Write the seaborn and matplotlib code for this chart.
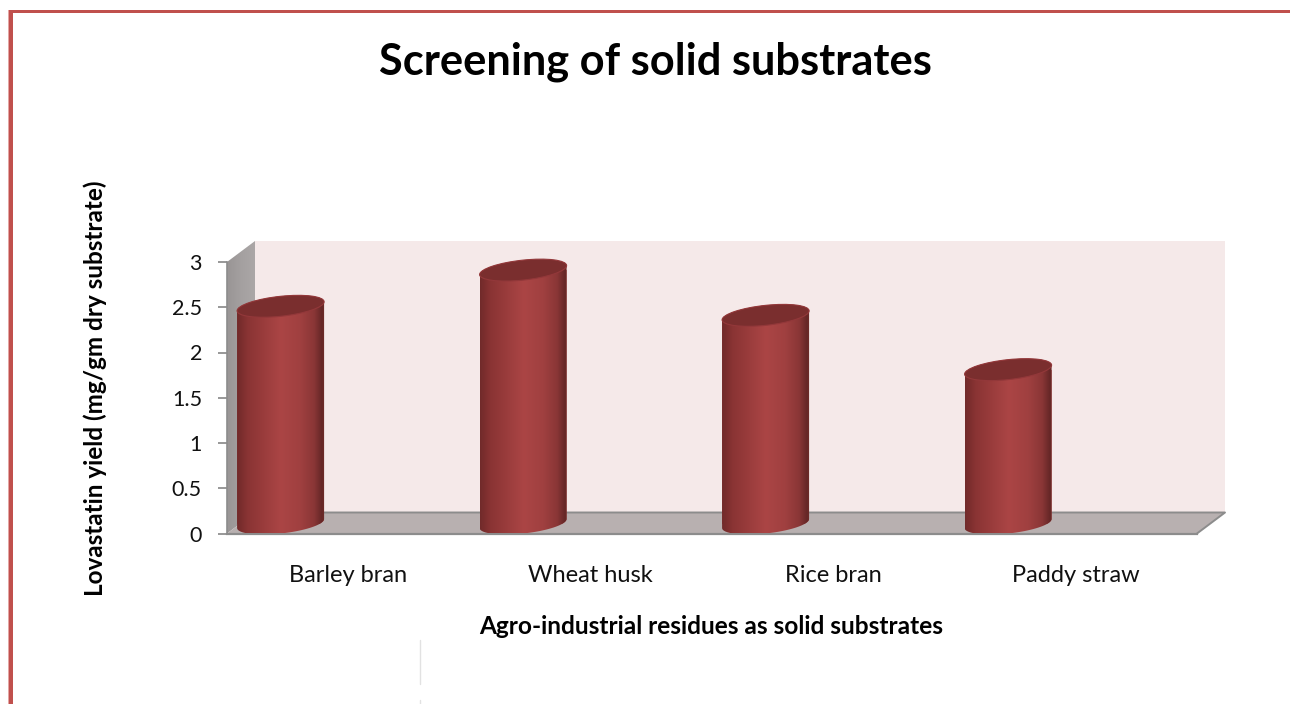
import numpy as np
import matplotlib
matplotlib.use("Agg")
import matplotlib.pyplot as plt
from matplotlib.colors import LinearSegmentedColormap
from matplotlib.patches import Polygon, Ellipse
from matplotlib.path import Path
from matplotlib.transforms import Affine2D, IdentityTransform, ScaledTranslation
import pandas as pd
import seaborn as sns

categories = ["Barley bran", "Wheat husk", "Rice bran", "Paddy straw"]
yields = [2.4, 2.8, 2.3, 1.7]
y_ticks = [0, 0.5, 1, 1.5, 2, 2.5, 3]
y_tick_labels = ["0", "0.5", "1", "1.5", "2", "2.5", "3"]
title = "Screening of solid substrates"
x_title = "Agro-industrial residues as solid substrates"
y_title = "Lovastatin yield (mg/gm dry substrate)"

W, H = 1290, 704
sns.set_style("white")
plt.rcParams["font.family"] = ["Lato", "DejaVu Sans"]
fig = plt.figure(figsize=(W / 100, H / 100), dpi=100, facecolor="white")

# background layer in pixel coordinates: frame and 3D walls
bg = fig.add_axes([0, 0, 1, 1], zorder=0)
bg.set_xlim(0, W)
bg.set_ylim(H, 0)
bg.axis("off")
L, R, T, B, DX, DY = 227, 1197, 262, 533.5, 28, 21
bg.add_patch(Polygon([(L + DX, T - DY), (R + DX, T - DY), (R + DX, B - DY), (L + DX, B - DY)],
                     fc="#F5E9E9", ec="none"))
floor = [(L, B), (R, B), (R + DX, B - DY), (L + DX, B - DY)]
bg.add_patch(Polygon(floor, fc="#B8B0B0", ec="none"))
bg.plot([L + DX, R + DX, R], [B - DY, B - DY, B], color="#8C8C8C", lw=1.4)
wall = Polygon([(L, T), (L + DX, T - DY), (L + DX, B - DY), (L, B)], fc="none", ec="none")
bg.add_patch(wall)
wall_cmap = LinearSegmentedColormap.from_list("wall", ["#999595", "#A4A0A0", "#ABA7A7"])
wall_im = bg.imshow(np.linspace(0, 1, 64)[None, :], cmap=wall_cmap, aspect="auto",
                    extent=(L, L + DX, B, T - DY), interpolation="bilinear")
wall_im.set_clip_path(wall)
bg.set_xlim(0, W)
bg.set_ylim(H, 0)
# page border and stray rule
bg.fill_between([8, W], 10, 13.3, color="#C0504D", lw=0)
bg.fill_between([9, 13.3], 10, H, color="#C0504D", lw=0)
bg.fill_between([8, 9], 10, H, color="#E3A6A4", lw=0)
bg.plot([419.5, 419.5], [640, 684], color="#E2E2E2", lw=1)
bg.plot([419.5, 419.5], [700, 704], color="#E2E2E2", lw=1)

# chart on the front plane
ax = fig.add_axes([L / W, 1 - B / H, (R - L) / W, (B - T) / H], zorder=2)
ax.patch.set_alpha(0)
df = pd.DataFrame({"substrate": categories, "yield": yields})
sns.barplot(data=df, x="substrate", y="yield", ax=ax, color="#A33F3F", width=0.359,
            saturation=1, edgecolor="none", linewidth=0)
ax.set_xlim(-0.5, 3.5)
ax.set_ylim(0, 3)
ax.set_yticks(y_ticks, y_tick_labels)
ax.tick_params(axis="y", left=True, length=6.5, width=1.2, color="#868686", pad=11.5,
               labelsize=15.5, labelcolor="#111111")
ax.tick_params(axis="x", bottom=False, pad=19.5, labelsize=17, labelcolor="#111111")
for s in ["top", "right"]:
    ax.spines[s].set_visible(False)
ax.spines["left"].set_color("#8C8C8C")
ax.spines["left"].set_linewidth(1.2)
ax.spines["bottom"].set_color("#8C8C8C")
ax.spines["bottom"].set_linewidth(1.6)

ax.set_xlabel(x_title, fontsize=17.6, fontweight="bold", color="black", va="top")
ax.xaxis.set_label_coords(0.499, -(615.5 - B) / (B - T))
ax.set_ylabel(y_title, fontsize=17.5, fontweight="bold", color="black", va="center", ha="center")
ax.yaxis.set_label_coords(-(L - 95) / (R - L), (B - 388) / (B - T))
fig.text(655.5 / W, 1 - 62 / H, title, fontsize=31.2, fontweight="bold", color="black",
         ha="center", va="center")

# cylinder look on the seaborn bars
fig.canvas.draw()
cyl = LinearSegmentedColormap.from_list(
    "cyl",
    [(0, "#712A2A"), (0.12, "#8A3434"), (0.5, "#AB4545"), (0.72, "#A04040"),
     (0.88, "#8A3636"), (0.97, "#652726"), (1, "#702C2A")])
A, S, Bm = 43.5, 4.5, 10.0      # half width, slant and half depth of the ellipses in px
RISE = 10                       # bars stand midway in the 3D depth
OFFSET = -0.279                 # bars sit left of the category centre
t_up = np.linspace(0, np.pi, 60)
t_dn = np.linspace(np.pi, 2 * np.pi, 60)
for bar, val in zip(ax.patches, yields):
    bar.set_x(bar.get_x() + OFFSET)
    bar.set_transform(ax.transData + Affine2D().translate(0, RISE))
    xc = bar.get_x() + bar.get_width() / 2
    cx, ybase = ax.transData.transform((xc, 0))
    _, ytop = ax.transData.transform((xc, val))
    ybase += RISE
    ytop += RISE
    xs = np.r_[A * np.cos(t_up), A * np.cos(t_dn)] + cx
    ys = np.r_[ytop + Bm * np.sin(t_up) + S * np.cos(t_up),
               ybase + Bm * np.sin(t_dn) + S * np.cos(t_dn)]
    verts = np.c_[xs, ys]
    verts = np.vstack([verts, verts[0]])
    silhouette = Path(verts)
    bar.set_clip_path(silhouette, IdentityTransform())
    im = ax.imshow(np.linspace(0, 1, 128)[None, :], cmap=cyl, aspect="auto", zorder=3,
                   extent=(bar.get_x(), bar.get_x() + bar.get_width(), -0.2, 3),
                   interpolation="bilinear")
    im.set_clip_path(silhouette, IdentityTransform())
    shear = Affine2D(np.array([[A, 0, 0], [S, Bm, 0], [0, 0, 1]], dtype=float))
    ax.add_patch(Ellipse((0, 0), 2, 2, fc="#7A2E2E", ec="#93383A", lw=0.8, zorder=4,
                         clip_on=False,
                         transform=shear + ScaledTranslation(xc, val, ax.transData)
                         + Affine2D().translate(0, RISE)))
ax.set_xlim(-0.5, 3.5)
ax.set_ylim(0, 3)

fig.savefig("out.png", dpi=100, facecolor="white")
